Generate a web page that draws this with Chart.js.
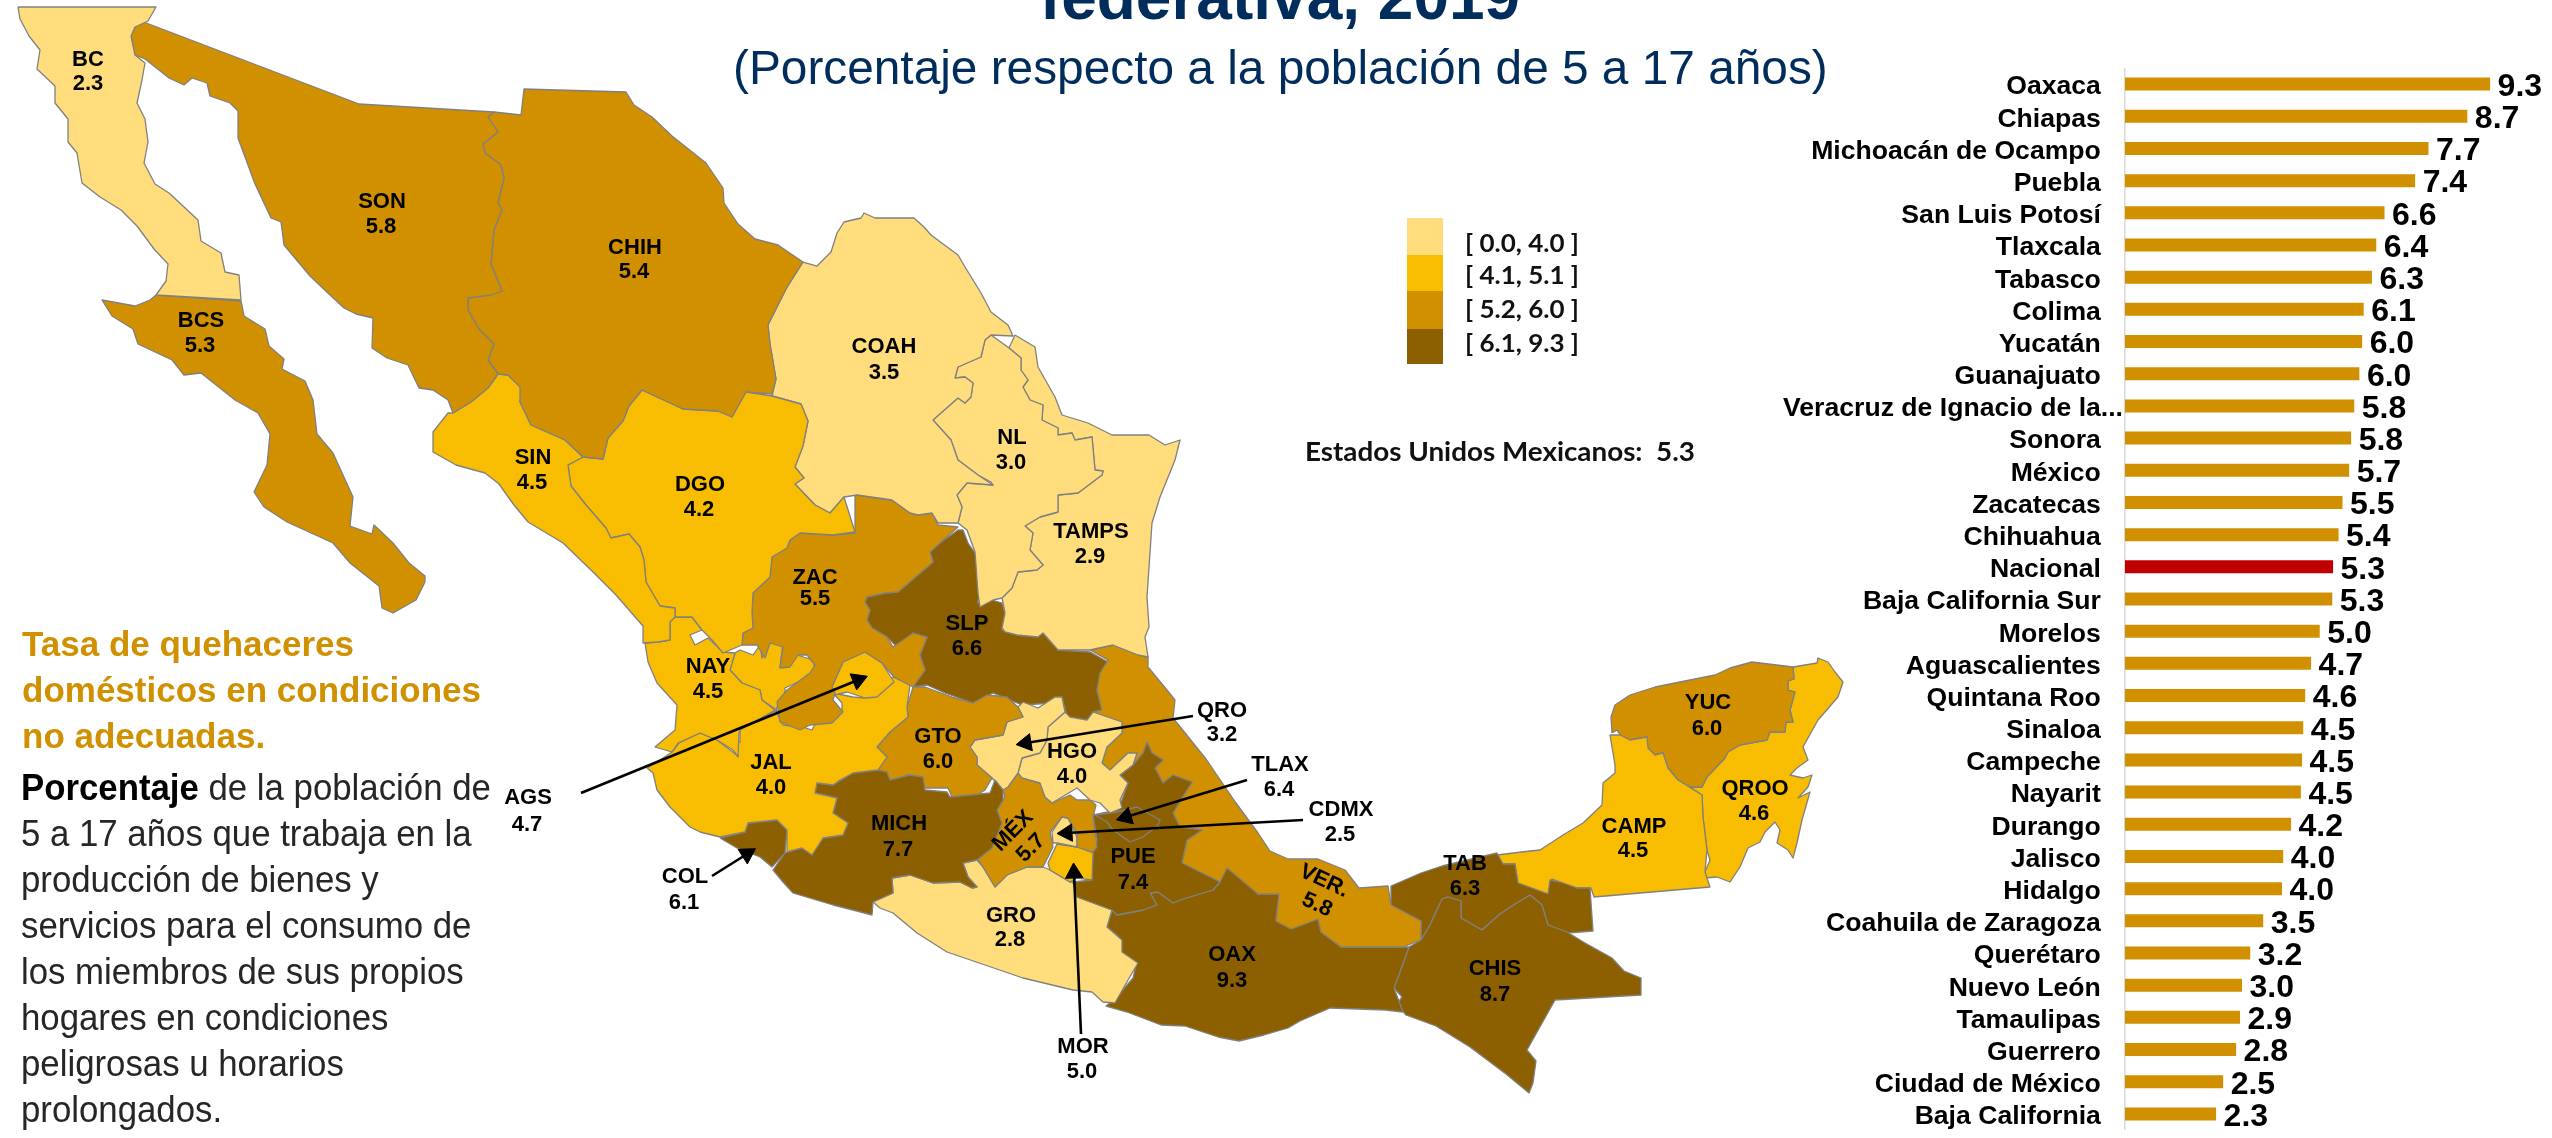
<!DOCTYPE html>
<html lang="es"><head><meta charset="utf-8">
<script src="https://cdn.jsdelivr.net/npm/chart.js@4"></script>
<style>
html,body{margin:0;padding:0;background:#fff;width:2552px;height:1138px;overflow:hidden}
canvas{position:absolute}
.t{position:absolute;white-space:pre;line-height:1;font-family:"Liberation Sans",Arial,sans-serif;transform-origin:left center}
.sw{position:absolute}
</style></head><body>
<canvas id="map" width="2552" height="1138" style="left:0;top:0;width:2552px;height:1138px"></canvas>
<canvas id="bars" width="852" height="1062" style="left:1700px;top:68px;width:852px;height:1062px"></canvas>
<script>
// ---- bar chart data ----
const barStates=["Oaxaca","Chiapas","Michoacán de Ocampo","Puebla","San Luis Potosí","Tlaxcala","Tabasco","Colima","Yucatán","Guanajuato","Veracruz de Ignacio de la...","Sonora","México","Zacatecas","Chihuahua","Nacional","Baja California Sur","Morelos","Aguascalientes","Quintana Roo","Sinaloa","Campeche","Nayarit","Durango","Jalisco","Hidalgo","Coahuila de Zaragoza","Querétaro","Nuevo León","Tamaulipas","Guerrero","Ciudad de México","Baja California"];
const barValues=[9.30,8.72,7.73,7.39,6.61,6.40,6.29,6.08,6.04,5.97,5.84,5.76,5.71,5.54,5.44,5.30,5.28,4.96,4.74,4.59,4.54,4.51,4.48,4.23,4.03,4.00,3.52,3.19,2.98,2.93,2.83,2.50,2.32];
// ---- map data: code, printed value, class index ----
const stateCodes=["BC","BCS","SON","CHIH","SIN","DGO","COAH","NL","TAMPS","ZAC","AGS","NAY","JAL","COL","MICH","GTO","QRO","HGO","MEX","CDMX","MOR","TLAX","PUE","GRO","VER","SLP","OAX","CHIS","TAB","CAMP","YUC","QROO"];
const stateClass=[0,2,2,2,1,1,0,0,0,2,1,1,1,3,3,2,0,0,2,0,1,3,3,0,2,3,3,3,3,1,2,1];
const classColors=["#FFDD7C","#F8BC00","#D09000","#8C6000"];
const classLabels=["[ 0.0, 4.0 ]","[ 4.1, 5.1 ]","[ 5.2, 6.0 ]","[ 6.1, 9.3 ]"];
const shapes={
BC:[[18,7],[156,7],[148,21],[135,27],[131,36],[135,55],[145,63],[142,80],[137,103],[145,119],[148,142],[144,163],[155,184],[169,193],[198,220],[201,241],[221,253],[225,272],[239,275],[241,300],[156,295],[166,281],[168,264],[154,249],[137,226],[121,210],[100,197],[82,183],[77,153],[68,142],[68,119],[55,103],[55,86],[37,69],[40,50],[29,36],[20,19]],
BCS:[[156,295],[241,301],[244,316],[265,329],[269,346],[284,359],[282,369],[305,381],[313,400],[317,434],[333,453],[353,497],[350,526],[372,534],[374,525],[393,543],[409,563],[425,576],[425,582],[416,600],[393,613],[382,608],[379,586],[350,563],[333,543],[287,522],[264,507],[254,492],[267,465],[270,434],[258,413],[235,400],[201,373],[184,375],[172,360],[138,344],[133,329],[112,316],[102,300],[135,306],[150,300]],
SON:[[141,21],[359,104],[494,112],[488,117],[498,132],[483,144],[485,153],[501,165],[504,178],[498,203],[502,210],[494,230],[491,264],[502,291],[491,295],[468,298],[468,310],[479,329],[494,344],[488,360],[498,374],[488,388],[471,402],[453,413],[448,400],[433,390],[419,388],[408,365],[387,358],[372,348],[373,318],[356,314],[344,308],[330,295],[310,276],[284,245],[281,222],[271,218],[255,184],[238,138],[238,111],[230,103],[210,96],[207,83],[192,78],[184,85],[169,78],[145,59],[135,55],[131,36],[135,27]],
CHIH:[[494,112],[521,115],[524,89],[626,92],[634,105],[652,117],[672,136],[706,163],[723,188],[724,203],[738,224],[755,239],[778,245],[803,262],[786,289],[768,325],[770,344],[776,379],[772,394],[746,392],[732,417],[718,411],[683,409],[642,390],[629,406],[623,421],[608,438],[603,459],[583,457],[565,440],[531,425],[520,402],[520,387],[508,375],[498,374],[488,360],[494,344],[479,329],[468,310],[468,298],[502,291],[491,264],[494,230],[502,210],[498,203],[504,178],[501,165],[485,153],[483,144],[498,132],[488,117]],
SIN:[[498,374],[508,375],[522,388],[520,402],[531,425],[565,440],[583,457],[568,465],[571,486],[586,505],[606,528],[611,538],[629,534],[640,547],[644,560],[646,582],[660,606],[675,608],[675,617],[670,622],[670,640],[658,642],[643,643],[643,626],[616,595],[591,570],[563,543],[528,522],[514,505],[499,484],[485,473],[456,465],[433,452],[433,432],[448,413],[453,413],[471,402],[488,388]],
DGO:[[642,390],[683,409],[718,411],[732,417],[746,392],[772,396],[801,404],[808,421],[803,446],[795,467],[804,478],[795,484],[815,505],[830,513],[844,497],[855,532],[833,535],[800,533],[790,540],[787,548],[772,557],[770,577],[753,593],[752,613],[753,628],[743,633],[742,645],[723,653],[712,640],[702,630],[692,617],[675,617],[675,608],[660,606],[646,582],[644,560],[640,547],[629,534],[611,538],[606,528],[586,505],[571,486],[568,465],[583,457],[603,459],[608,438],[623,421],[629,406]],
COAH:[[803,262],[817,266],[831,252],[837,233],[844,222],[861,218],[864,213],[875,218],[914,218],[924,227],[931,235],[958,255],[965,267],[981,293],[991,312],[1008,325],[1013,336],[991,335],[985,340],[981,357],[958,367],[955,378],[965,377],[973,383],[971,397],[965,403],[958,398],[933,420],[951,440],[958,460],[978,475],[993,485],[967,483],[957,495],[962,507],[958,523],[938,523],[932,513],[918,515],[910,513],[892,500],[857,495],[844,497],[830,513],[815,505],[795,484],[804,478],[795,467],[803,446],[808,421],[801,404],[772,396],[776,379],[770,344],[768,325],[786,289]],
NL:[[991,335],[1005,345],[1009,348],[1021,358],[1021,370],[1028,380],[1023,387],[1030,400],[1043,405],[1042,420],[1058,428],[1058,435],[1072,433],[1075,440],[1092,437],[1095,470],[1103,471],[1102,475],[1078,493],[1058,495],[1058,512],[1040,517],[1025,526],[1033,533],[1030,550],[1043,565],[1037,570],[1018,572],[1012,588],[1002,598],[993,600],[980,607],[978,593],[975,552],[967,530],[958,523],[962,507],[957,495],[967,483],[993,485],[991,482],[978,475],[958,460],[951,440],[933,420],[958,398],[965,403],[971,397],[973,383],[965,377],[955,378],[958,367],[981,357],[985,340]],
TAMPS:[[1015,335],[1035,347],[1038,367],[1055,397],[1062,415],[1088,423],[1112,435],[1149,435],[1165,445],[1180,440],[1175,460],[1160,497],[1152,523],[1147,597],[1149,627],[1145,637],[1148,657],[1138,655],[1113,645],[1090,650],[1058,650],[1043,633],[1038,637],[1017,635],[1005,632],[1002,628],[1005,613],[1002,598],[1012,588],[1018,572],[1037,570],[1043,565],[1030,550],[1033,533],[1025,526],[1040,517],[1058,512],[1058,495],[1078,493],[1102,475],[1103,471],[1095,470],[1092,437],[1075,440],[1072,433],[1058,435],[1058,428],[1042,420],[1043,405],[1030,400],[1023,387],[1028,380],[1021,370],[1021,358],[1009,348]],
ZAC:[[855,495],[892,500],[910,513],[918,515],[932,513],[938,525],[958,527],[940,543],[930,552],[933,562],[898,592],[885,593],[867,597],[865,602],[870,610],[867,620],[872,628],[887,637],[893,647],[913,633],[927,637],[920,655],[925,670],[913,687],[894,677],[882,663],[865,652],[843,662],[832,687],[835,693],[833,700],[843,712],[832,723],[810,725],[800,730],[780,722],[777,702],[787,690],[810,673],[815,665],[807,655],[798,655],[790,667],[780,668],[783,647],[770,643],[765,658],[757,645],[742,645],[743,633],[753,628],[752,613],[753,593],[770,577],[772,557],[787,548],[790,540],[800,533],[833,535],[855,533]],
AGS:[[832,687],[843,662],[865,652],[882,663],[894,682],[877,697],[865,698],[847,692],[835,695]],
NAY:[[645,643],[648,662],[657,683],[677,705],[675,730],[655,747],[672,752],[678,743],[700,733],[717,740],[733,750],[738,757],[739,733],[740,730],[775,710],[762,700],[760,690],[742,683],[730,670],[735,653],[723,652],[708,638],[695,645],[690,635],[702,630],[692,617],[675,617],[670,622],[670,640],[658,642]],
JAL:[[735,653],[740,650],[753,655],[760,645],[762,658],[767,643],[783,643],[780,667],[797,655],[813,660],[815,670],[807,678],[785,688],[785,697],[777,707],[777,713],[783,725],[803,727],[812,730],[817,720],[830,718],[842,713],[842,703],[833,693],[853,697],[865,698],[877,685],[893,677],[910,685],[907,707],[908,717],[890,732],[877,747],[887,757],[878,770],[853,773],[840,780],[833,785],[817,783],[815,793],[837,798],[833,813],[848,823],[843,835],[823,838],[812,855],[802,848],[787,852],[787,830],[777,820],[748,823],[745,832],[720,837],[700,832],[690,827],[670,807],[657,790],[653,773],[647,768],[663,758],[672,752],[679,743],[700,733],[717,740],[738,756],[733,743],[740,742],[740,730],[777,710],[762,700],[760,690],[742,683],[730,670]],
COL:[[720,838],[745,832],[748,823],[777,820],[787,830],[785,853],[772,867],[760,857],[737,848]],
MICH:[[878,770],[887,772],[890,780],[910,775],[923,777],[925,790],[947,792],[950,797],[990,793],[995,780],[1003,790],[1003,800],[997,810],[1002,823],[992,848],[977,860],[963,863],[968,877],[977,887],[972,888],[960,882],[933,883],[910,875],[892,878],[893,893],[873,902],[872,915],[853,910],[833,905],[793,893],[783,882],[773,870],[785,853],[802,848],[812,855],[823,838],[843,835],[848,823],[833,813],[837,798],[815,793],[817,783],[833,785],[853,773]],
GTO:[[913,687],[925,687],[952,697],[973,703],[987,695],[1007,697],[1018,707],[1023,717],[1007,722],[1003,735],[975,740],[970,747],[977,757],[977,765],[992,778],[985,790],[977,795],[952,797],[948,788],[925,788],[922,777],[907,775],[892,782],[888,778],[878,770],[887,757],[877,747],[890,732],[908,717],[907,707]],
QRO:[[1023,702],[1038,708],[1055,697],[1062,697],[1065,712],[1048,727],[1047,740],[1040,753],[1022,758],[1018,773],[1008,787],[1003,790],[992,778],[977,765],[977,757],[970,747],[975,740],[1003,735],[1007,722],[1023,717],[1018,707]],
HGO:[[1048,727],[1065,712],[1070,717],[1087,720],[1093,712],[1122,722],[1122,733],[1107,747],[1102,763],[1110,770],[1128,753],[1137,753],[1133,765],[1120,775],[1128,783],[1120,800],[1122,808],[1110,813],[1100,803],[1090,800],[1077,788],[1052,803],[1045,797],[1040,783],[1022,778],[1018,773],[1022,758],[1040,753],[1047,740]],
MEX:[[1003,790],[1008,787],[1018,773],[1022,778],[1040,783],[1045,797],[1052,803],[1070,795],[1077,800],[1090,800],[1096,805],[1093,817],[1097,847],[1093,852],[1077,847],[1077,833],[1068,818],[1062,817],[1050,832],[1053,847],[1043,867],[1027,867],[1007,875],[995,887],[983,867],[977,858],[995,837],[997,810],[1005,797]],
CDMX:[[1068,818],[1077,837],[1077,847],[1057,843],[1053,843],[1052,832],[1062,817]],
MOR:[[1057,844],[1077,847],[1093,853],[1092,880],[1077,878],[1070,882],[1050,870],[1048,863]],
TLAX:[[1095,815],[1117,812],[1137,807],[1160,820],[1158,825],[1143,837],[1130,842],[1113,830],[1107,822]],
PUE:[[1147,742],[1152,753],[1163,760],[1155,768],[1163,783],[1173,775],[1192,782],[1173,813],[1180,827],[1202,830],[1187,840],[1182,863],[1200,872],[1220,882],[1213,890],[1180,900],[1173,903],[1158,892],[1150,893],[1157,905],[1143,910],[1117,915],[1112,910],[1077,897],[1073,882],[1092,880],[1093,852],[1097,840],[1093,815],[1118,810],[1123,797],[1128,783],[1120,775],[1133,765],[1143,753]],
GRO:[[873,902],[893,893],[892,878],[910,875],[933,883],[960,882],[972,888],[977,887],[968,877],[963,863],[977,860],[983,867],[995,887],[1007,875],[1027,867],[1043,867],[1050,870],[1070,882],[1073,882],[1077,897],[1112,910],[1107,927],[1122,940],[1122,952],[1138,963],[1128,980],[1115,1003],[1103,1002],[1092,992],[1073,990],[1023,978],[947,952],[917,933],[893,913],[880,908]],
VER:[[1090,650],[1113,645],[1138,655],[1148,657],[1148,667],[1167,690],[1175,700],[1173,718],[1206,759],[1236,803],[1258,833],[1270,851],[1288,859],[1318,859],[1345,870],[1359,888],[1388,886],[1391,905],[1421,921],[1421,940],[1403,947],[1341,947],[1321,932],[1318,919],[1291,929],[1276,921],[1279,894],[1258,894],[1227,868],[1220,882],[1200,872],[1182,863],[1187,840],[1202,830],[1180,827],[1173,813],[1192,782],[1173,775],[1163,783],[1155,768],[1163,760],[1152,753],[1147,742],[1143,753],[1133,765],[1137,753],[1128,753],[1110,770],[1102,763],[1107,747],[1122,733],[1122,722],[1093,712],[1102,710],[1097,690],[1100,673],[1108,660]],
SLP:[[963,530],[968,543],[975,553],[980,580],[978,603],[992,600],[1002,603],[1005,613],[1002,630],[1017,635],[1038,637],[1043,633],[1058,650],[1090,652],[1108,662],[1100,675],[1097,690],[1102,710],[1088,722],[1067,717],[1062,697],[1053,703],[1022,705],[993,693],[973,703],[945,693],[927,685],[913,687],[925,670],[920,655],[927,637],[913,633],[897,647],[887,637],[872,628],[867,620],[870,610],[865,602],[867,597],[885,593],[898,592],[933,562],[930,552],[940,543],[958,530]],
OAX:[[1107,927],[1112,910],[1117,915],[1143,910],[1157,905],[1150,893],[1158,892],[1173,903],[1180,900],[1213,890],[1220,882],[1223,867],[1243,873],[1258,894],[1279,894],[1276,921],[1291,929],[1318,919],[1321,932],[1341,947],[1409,947],[1397,980],[1394,988],[1403,1012],[1385,1010],[1330,1008],[1300,1021],[1288,1028],[1264,1035],[1239,1041],[1218,1037],[1185,1026],[1161,1025],[1127,1012],[1106,1006],[1115,999],[1133,978],[1136,965],[1121,951],[1118,936]],
CHIS:[[1409,947],[1421,940],[1430,925],[1442,899],[1448,897],[1461,901],[1461,918],[1482,930],[1500,914],[1512,906],[1530,895],[1542,905],[1548,925],[1567,932],[1585,943],[1612,958],[1624,971],[1641,978],[1641,995],[1555,1000],[1527,1050],[1536,1061],[1533,1083],[1529,1093],[1506,1074],[1470,1047],[1436,1026],[1406,1015],[1397,1004],[1402,997],[1394,988]],
TAB:[[1391,886],[1421,873],[1442,866],[1497,853],[1503,864],[1515,864],[1518,883],[1548,894],[1550,880],[1560,882],[1577,888],[1590,888],[1593,931],[1567,933],[1548,925],[1542,905],[1530,895],[1512,906],[1500,914],[1482,930],[1461,918],[1461,901],[1448,897],[1442,899],[1430,925],[1421,940],[1421,921],[1391,905]],
CAMP:[[1610,735],[1620,735],[1630,740],[1647,737],[1648,748],[1655,755],[1663,753],[1668,768],[1678,780],[1702,795],[1703,817],[1707,850],[1705,872],[1710,887],[1594,897],[1591,888],[1577,888],[1560,882],[1552,879],[1548,894],[1518,883],[1515,864],[1503,864],[1497,855],[1530,851],[1540,850],[1563,835],[1583,823],[1602,805],[1603,783],[1615,773],[1615,765]],
YUC:[[1612,733],[1611,717],[1615,705],[1630,695],[1655,687],[1690,680],[1715,675],[1730,668],[1752,662],[1793,667],[1794,679],[1788,681],[1788,690],[1795,692],[1790,710],[1793,722],[1786,722],[1785,732],[1770,732],[1767,740],[1740,745],[1728,752],[1725,758],[1707,777],[1702,787],[1690,787],[1678,780],[1668,768],[1663,753],[1655,755],[1648,748],[1647,737],[1630,740],[1620,735],[1617,730]],
QROO:[[1793,667],[1817,663],[1818,658],[1828,662],[1835,672],[1843,682],[1838,697],[1818,720],[1803,747],[1808,760],[1797,768],[1790,775],[1803,778],[1812,775],[1808,787],[1798,798],[1810,792],[1802,820],[1797,843],[1793,858],[1788,850],[1777,843],[1780,830],[1775,822],[1765,832],[1760,842],[1748,848],[1740,867],[1730,882],[1717,877],[1705,878],[1705,872],[1710,860],[1707,850],[1703,817],[1702,795],[1690,787],[1702,787],[1707,777],[1725,758],[1728,752],[1740,745],[1767,740],[1770,732],[1785,732],[1786,722],[1793,722],[1790,710],[1795,692],[1788,690],[1788,681],[1794,679]]
};
// map labels: [code, value, x, y of code line, x, y of value line, rotation]
const mapLabels=[["BC","2.3",88,60,88,84,0],["BCS","5.3",201,321,200,346,0],["SON","5.8",382,202,381,227,0],["CHIH","5.4",635,248,634,272,0],["SIN","4.5",533,458,532,483,0],["DGO","4.2",700,485,699,510,0],["COAH","3.5",884,347,884,373,0],["NL","3.0",1012,438,1011,463,0],["TAMPS","2.9",1091,532,1090,557,0],["ZAC","5.5",815,578,815,599,0],["SLP","6.6",967,624,967,649,0],["NAY","4.5",708,667,708,692,0],["JAL","4.0",771,763,771,788,0],["GTO","6.0",938,737,938,762,0],["HGO","4.0",1072,752,1072,777,0],["MICH","7.7",899,824,898,850,0],["MÉX","5.7",1013,831,1031,848,-45],["PUE","7.4",1133,857,1133,883,0],["GRO","2.8",1011,916,1010,940,0],["OAX","9.3",1232,955,1232,981,0],["CHIS","8.7",1495,969,1495,995,0],["TAB","6.3",1465,864,1465,889,0],["VER.","5.8",1324,881,1317,905,25],["CAMP","4.5",1634,827,1633,851,0],["YUC","6.0",1708,703,1707,729,0],["QROO","4.6",1755,789,1754,814,0],["AGS","4.7",528,798,527,825,0],["COL","6.1",685,877,684,903,0],["QRO","3.2",1222,711,1222,735,0],["TLAX","6.4",1280,765,1279,790,0],["CDMX","2.5",1341,810,1340,835,0],["MOR","5.0",1083,1047,1082,1072,0]];
const arrows=[[[581,793],[858,680]],[[712,876],[747,854]],[[1193,716],[1026,743]],[[1247,780],[1126,817]],[[1303,820],[1067,833]],[[1081,1034],[1074,873]]];
// texts
const titleLine="federativa, 2019";
const subtitleLine="(Porcentaje respecto a la población de 5 a 17 años)";
const headLines=["Tasa de quehaceres","domésticos en condiciones","no adecuadas."];
const bodyLines=[" de la población de","5 a 17 años que trabaja en la","producción de bienes y","servicios para el consumo de","los miembros de sus propios","hogares en condiciones","peligrosas u horarios","prolongados."];
const nationalLine="Estados Unidos Mexicanos:  5.3";

function addText(txt,left,cy,size,opts){
  const d=document.createElement('div');d.className='t';d.innerHTML=txt;
  d.style.left=left+'px';d.style.top=(cy-size/2)+'px';d.style.fontSize=size+'px';
  d.style.color=opts.color||'#000';d.style.fontWeight=opts.weight||'normal';
  if(opts.family)d.style.fontFamily=opts.family;
  if(opts.center){d.style.transform='translateX(-50%)';}
  if(opts.sx){d.style.transform='scaleX('+opts.sx+')';}
  document.body.appendChild(d);return d;
}
addText(titleLine,1280,-3,64,{color:'#002D5C',weight:'bold',center:true});
addText(subtitleLine,733,68,47.8,{color:'#002D5C'});
headLines.forEach((l,i)=>addText(l,22,643+i*46,35,{color:'#D09000',weight:'bold'}));
bodyLines.forEach((l,i)=>{
  const txt=i===0?'<b style="color:#000">Porcentaje</b>'+l:l;
  addText(txt,21,787+i*46,37,{color:'#262626',sx:0.94});
});
[218,255,291,329].forEach((top,i)=>{
  const bottoms=[255,291,329,364];
  const s=document.createElement('div');s.className='sw';
  s.style.cssText=`left:1407px;top:${top}px;width:36px;height:${bottoms[i]-top}px;background:${classColors[i]}`;
  document.body.appendChild(s);
});
const legendY=[242,274,308,342];
classLabels.forEach((l,i)=>addText(l,1465,legendY[i],25,{weight:'bold',family:'Lato, "Open Sans", sans-serif',color:'#111',sx:1.04}));
addText(nationalLine,1305,450,27,{weight:'bold',family:'Lato, "Open Sans", sans-serif',color:'#111',sx:1.03});

// ---- map chart ----
const stateSets=stateCodes.map((code,i)=>{
  const pts=shapes[code];
  return {label:code,data:pts.concat([pts[0]]).map(p=>({x:p[0],y:p[1]})),showLine:true,fill:'shape',
    backgroundColor:classColors[stateClass[i]],borderColor:'#808080',borderWidth:1.3,borderJoinStyle:'round',
    pointRadius:0,tension:0,clip:false};
});
const arrowSets=arrows.map(a=>{
  const dx=a[1][0]-a[0][0],dy=a[1][1]-a[0][1];
  return {label:'arrow',data:[{x:a[0][0],y:a[0][1]},{x:a[1][0],y:a[1][1]}],showLine:true,fill:false,
    borderColor:'#000',borderWidth:2.6,tension:0,pointRadius:[0,10],pointHoverRadius:[0,10],pointStyle:'triangle',
    pointRotation:Math.atan2(dx,-dy)*180/Math.PI,pointBackgroundColor:'#000',pointBorderColor:'#000',pointBorderWidth:1,clip:false};
});
const mapTextPlugin={id:'mapText',afterDraw(c){
  const g=c.ctx,X=c.scales.x,Y=c.scales.y;
  g.save();g.font='bold 22px "Liberation Sans",Arial,sans-serif';g.fillStyle='#000';g.textAlign='center';g.textBaseline='middle';
  mapLabels.forEach(l=>{
    [[l[0],l[2],l[3]],[l[1],l[4],l[5]]].forEach(t=>{
      g.save();g.translate(X.getPixelForValue(t[1]),Y.getPixelForValue(t[2]));g.rotate(l[6]*Math.PI/180);g.fillText(t[0],0,0);g.restore();
    });
  });
  g.restore();
}};
new Chart(document.getElementById('map'),{type:'scatter',
  data:{datasets:arrowSets.concat(stateSets)},
  options:{responsive:false,animation:false,events:[],layout:{padding:0,autoPadding:false},
    plugins:{legend:{display:false},tooltip:{enabled:false},title:{display:false}},
    scales:{x:{type:'linear',min:0,max:2552,display:false},y:{type:'linear',min:0,max:1138,reverse:true,display:false}}},
  plugins:[mapTextPlugin]});

// ---- bar chart ----
const barTextPlugin={id:'barText',afterDatasetsDraw(c){
  const g=c.ctx,m=c.getDatasetMeta(0);
  g.save();g.font='bold 32px "Liberation Sans",Arial,sans-serif';g.fillStyle='#000';g.textAlign='left';g.textBaseline='middle';
  m.data.forEach((el,i)=>g.fillText(barValues[i].toFixed(1),el.x+7.5,el.y+3));
  g.restore();
}};
new Chart(document.getElementById('bars'),{type:'bar',
  data:{labels:barStates,datasets:[{data:barValues,backgroundColor:barStates.map(s=>s==='Nacional'?'#C00000':'#D09000'),borderWidth:0,barPercentage:0.404,categoryPercentage:1}]},
  options:{indexAxis:'y',responsive:false,animation:false,events:[],layout:{padding:0,autoPadding:false},
    plugins:{legend:{display:false},tooltip:{enabled:false}},
    scales:{
      x:{type:'linear',min:0,max:427/39.26,display:false},
      y:{type:'category',afterFit(s){s.width=425;s.paddingTop=0;s.paddingBottom=0;},
        grid:{display:false,drawTicks:false},border:{display:true,color:'#D9D9D9',width:1.5},
        ticks:{autoSkip:false,padding:2,labelOffset:3,color:'#000',font:{family:'"Liberation Sans",Arial,sans-serif',size:26.6,weight:'bold'},
          callback(v){const n=this.getLabelForValue(v);return n.endsWith('...')?n:n+'\u00a0\u00a0\u00a0';}}}
    }},
  plugins:[barTextPlugin]});
</script>
</body></html>
